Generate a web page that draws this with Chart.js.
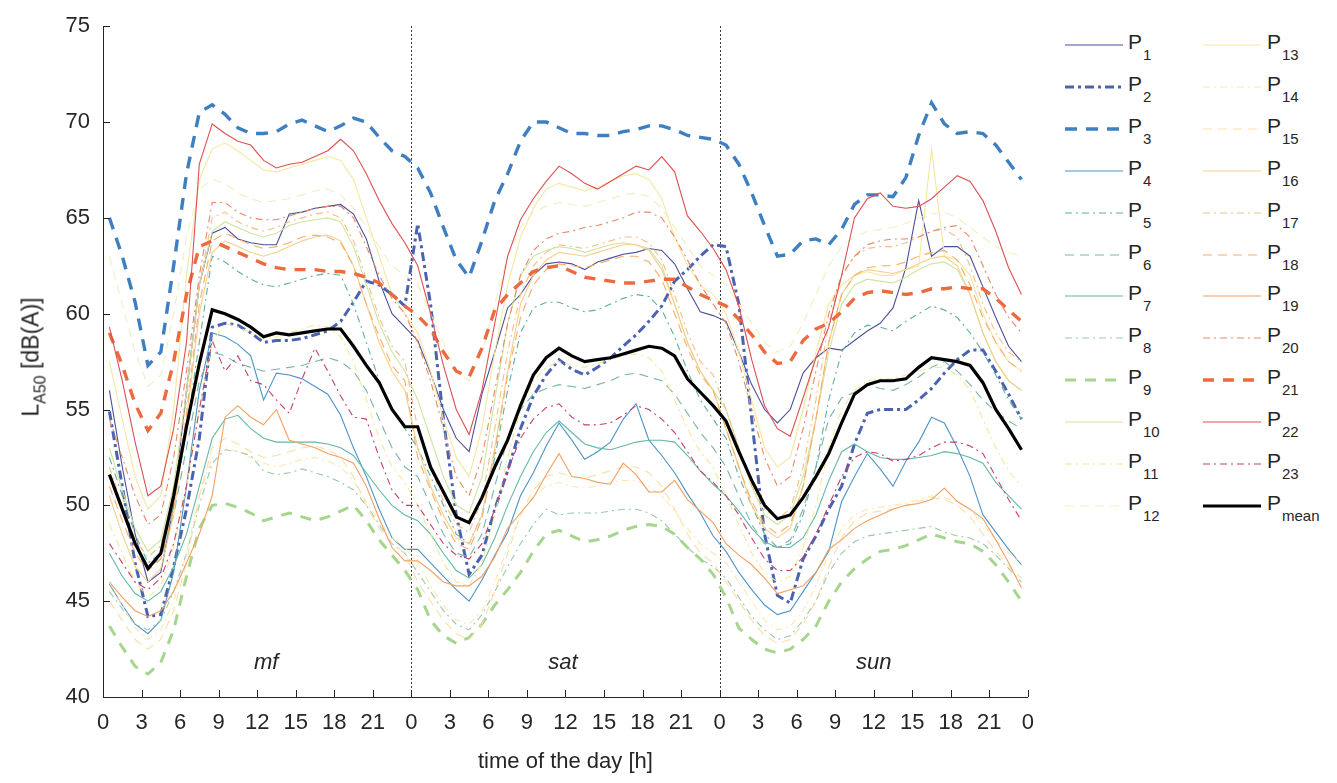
<!DOCTYPE html>
<html>
<head>
<meta charset="utf-8">
<title>L_A50 daily profiles</title>
<script src="https://cdn.jsdelivr.net/npm/chart.js@4.4.1/dist/chart.umd.min.js"></script>
<style>
  html, body { margin: 0; padding: 0; background: #fff; }
  #page { position: relative; width: 1337px; height: 783px; overflow: hidden;
          font-family: 'Liberation Sans', Arial, sans-serif; color: #262626; }
  #chartBox { position: absolute; left: 0; top: 0; width: 1047px; height: 783px; }
  #ytitle { position: absolute; left: 31px; top: 357px; width: 0; height: 0; }
  #ytitle div { position: absolute; left: 0; top: 0; transform: translate(-50%, -50%) rotate(-90deg);
                white-space: nowrap; font-size: 23px; line-height: 1; }
  #ytitle sub { font-size: 16px; vertical-align: baseline; position: relative; top: 7px; }
  .leg-line { position: absolute; }
  .leg-text { position: absolute; font-size: 21px; line-height: 21px; white-space: nowrap; }
  .leg-text sub { font-size: 15px; vertical-align: baseline; position: relative; top: 11px; margin-left: 1px; }
</style>
</head>
<body>
<div id="page">
  <div id="chartBox"><canvas id="grafico" width="1047" height="783"></canvas></div>
  <div id="ytitle"><div>L<sub>A50</sub> [dB(A)]</div></div>
  <div id="legenda"></div>
</div>
<script>
// hourly L_A50 values, one per hour (plotted at h+0.5): mon-fri, sat, sun
const P1 = [56.0, 52.0, 48.5, 46.0, 46.5, 50.0, 56.0, 61.5, 64.2, 64.5, 63.9, 63.7, 63.6, 63.6, 65.2, 65.3, 65.5, 65.6, 65.7, 65.2, 63.9, 61.7, 60.0, 59.3,
            58.6, 56.9, 55.0, 53.5, 52.8, 55.8, 58.0, 60.3, 61.0, 62.0, 62.6, 62.7, 62.6, 62.3, 62.7, 62.9, 63.1, 63.2, 63.4, 63.3, 62.6, 61.3, 60.1, 59.9,
            59.6, 58.0, 56.3, 55.0, 54.3, 55.0, 56.9, 57.7, 58.2, 58.1, 58.6, 59.1, 59.5, 60.3, 62.4, 65.9, 63.0, 63.5, 63.5, 63.0, 61.4, 59.8, 58.3, 57.5];
const P2 = [54.9, 51.0, 47.0, 44.2, 44.3, 46.8, 49.8, 53.5, 59.3, 59.5, 59.4, 59.0, 58.5, 58.6, 58.6, 58.7, 58.9, 59.1, 59.6, 60.6, 61.7, 61.5, 61.0, 60.4,
            64.7, 60.5, 54.5, 49.5, 46.4, 47.4, 49.8, 51.8, 54.0, 55.7, 56.8, 57.6, 57.1, 56.8, 57.2, 57.7, 58.3, 58.9, 59.6, 60.4, 61.7, 62.3, 63.0, 63.6,
            63.5, 60.5, 54.5, 48.5, 45.3, 44.9, 47.2, 48.4, 49.8, 51.0, 53.2, 54.8, 55.0, 55.0, 55.0, 55.5, 56.1, 56.9, 57.6, 58.1, 58.1, 57.0, 55.8, 54.5];
const P3 = [65.0, 63.0, 60.6, 57.3, 58.0, 62.5, 67.3, 70.5, 70.9, 70.4, 69.7, 69.4, 69.4, 69.5, 69.9, 70.1, 69.8, 69.5, 69.8, 70.2, 70.0, 69.2, 68.5, 68.2,
            67.6, 66.3, 64.5, 62.8, 61.9, 63.8, 65.9, 67.3, 69.0, 70.0, 70.0, 69.7, 69.4, 69.4, 69.3, 69.3, 69.5, 69.6, 69.8, 69.8, 69.6, 69.3, 69.2, 69.1,
            68.8, 67.8, 66.3, 64.6, 63.0, 63.1, 63.8, 63.9, 63.6, 64.4, 65.7, 66.2, 66.2, 66.1, 67.1, 69.3, 71.0, 69.9, 69.4, 69.5, 69.4, 68.8, 67.9, 67.0];
const P4 = [45.9, 44.8, 43.8, 43.3, 44.0, 46.5, 51.0, 56.0, 59.0, 58.8, 58.4, 57.8, 55.5, 56.9, 56.8, 56.6, 56.2, 55.8, 54.7, 53.0, 51.5, 49.8, 48.3, 47.7,
            47.7, 47.0, 46.3, 45.6, 45.0, 46.1, 47.4, 48.6, 50.5, 51.7, 53.1, 54.3, 53.4, 52.4, 52.8, 53.3, 54.5, 55.3, 53.4, 52.6, 51.7, 50.6, 49.6, 48.4,
            47.6, 46.5, 45.6, 44.8, 44.3, 44.5, 45.5, 46.5, 47.6, 50.2, 51.5, 52.7, 51.9, 51.0, 52.3, 53.3, 54.6, 54.3, 53.0, 51.5, 49.5, 48.6, 47.7, 46.9];
const P5 = [52.5, 50.5, 48.5, 47.0, 47.5, 50.0, 54.0, 58.5, 63.0, 62.7, 62.2, 61.8, 61.5, 61.4, 61.6, 61.8, 62.0, 62.1, 62.0, 60.5, 58.5, 56.5, 55.0, 54.0,
            53.0, 51.5, 50.0, 48.5, 48.0, 49.5, 52.5, 56.0, 59.0, 60.3, 60.6, 60.6, 60.3, 60.1, 60.2, 60.5, 60.8, 61.0, 60.9, 60.2, 58.8, 57.0, 55.5, 54.5,
            53.5, 51.5, 50.0, 48.5, 47.8, 48.0, 49.5, 52.0, 55.5, 58.0, 59.0, 59.4, 59.3, 59.1, 59.6, 60.0, 60.4, 60.2, 59.8, 59.0, 58.0, 56.8, 55.5, 54.5];
const P6 = [51.5, 49.8, 48.0, 46.8, 47.2, 49.5, 53.0, 56.5, 58.0, 57.8, 57.4, 57.2, 57.0, 57.1, 57.2, 57.3, 57.5, 57.7, 57.5, 57.0, 56.0, 54.5, 53.0, 52.0,
            51.5, 50.0, 48.5, 47.5, 47.3, 48.5, 51.0, 53.5, 55.0, 55.8, 56.1, 56.3, 56.2, 56.1, 56.3, 56.5, 56.8, 56.9, 56.7, 56.5, 55.8, 54.8, 53.8, 53.0,
            52.0, 50.5, 49.0, 48.0, 47.8, 48.2, 49.8, 52.0, 54.5, 55.6, 55.9, 56.3, 56.1, 56.0, 56.3, 56.7, 57.2, 57.5, 57.0, 56.3, 55.5, 54.9, 54.4, 54.0];
const P7 = [47.5, 46.3, 45.4, 45.0, 45.5, 46.8, 48.5, 51.0, 53.5, 54.5, 54.7, 54.0, 53.5, 53.3, 53.3, 53.3, 53.3, 53.2, 53.0, 52.6, 51.7, 50.8, 50.0, 49.5,
            49.2, 48.5, 47.5, 46.6, 46.2, 46.9, 48.3, 50.0, 51.5, 52.8, 53.8, 54.4, 53.8, 53.2, 53.0, 52.9, 53.1, 53.3, 53.4, 53.4, 53.3, 52.6, 51.8, 51.1,
            50.5, 49.7, 48.8, 48.1, 47.8, 47.8, 48.3, 49.5, 51.3, 52.8, 53.2, 52.8, 52.5, 52.4, 52.4, 52.5, 52.6, 52.8, 52.7, 52.5, 52.2, 51.2, 50.5, 49.8];
const P8 = [45.5, 44.6, 43.8, 43.5, 44.0, 45.5, 47.5, 50.0, 52.2, 52.9, 52.8, 52.6, 51.8, 51.6, 51.7, 51.9, 51.7, 51.5, 51.2, 50.8, 50.0, 49.0, 48.0, 47.5,
            46.5, 45.5, 44.5, 43.8, 43.5, 44.3, 45.5, 46.8, 48.0, 49.0, 49.8, 49.5, 49.6, 49.6, 49.6, 49.7, 49.8, 49.8, 49.6, 49.2, 48.5, 47.8, 47.2, 46.8,
            46.2, 45.2, 44.2, 43.5, 43.0, 43.2, 44.0, 45.0, 46.5, 47.5, 48.1, 48.4, 48.5, 48.6, 48.7, 48.8, 48.9, 48.6, 48.4, 48.3, 48.0, 47.4, 46.7, 46.0];
const P9 = [43.7, 42.6, 41.6, 41.2, 41.8, 43.5, 46.3, 48.8, 50.0, 50.1, 49.9, 49.6, 49.2, 49.4, 49.6, 49.4, 49.2, 49.4, 49.7, 50.0, 49.2, 48.2, 47.4, 46.6,
            45.6, 44.0, 43.2, 42.8, 43.1, 43.8, 44.8, 45.6, 46.5, 47.6, 48.5, 48.7, 48.4, 48.1, 48.2, 48.4, 48.7, 48.9, 49.0, 48.9, 48.5, 47.8, 47.2, 46.4,
            45.2, 43.6, 43.0, 42.5, 42.3, 42.5, 43.0, 43.7, 45.0, 46.0, 46.7, 47.2, 47.6, 47.7, 47.9, 48.2, 48.5, 48.3, 48.1, 48.0, 47.6, 46.9, 46.0, 45.0];
const P10 = [53.0, 50.8, 48.8, 47.6, 48.2, 51.0, 56.0, 61.5, 64.3, 64.8, 64.5, 64.2, 64.0, 64.2, 64.6, 64.8, 64.9, 65.0, 64.8, 63.5, 61.5, 59.5, 58.0, 57.0,
             55.5, 53.5, 51.5, 50.0, 49.6, 51.5, 55.5, 59.5, 62.0, 63.0, 63.3, 63.5, 63.4, 63.2, 63.4, 63.6, 63.7, 63.6, 63.4, 62.5, 60.5, 58.5, 57.0, 56.0,
             55.0, 53.0, 51.0, 49.5, 49.0, 49.5, 51.5, 54.5, 58.0, 60.5, 61.5, 61.8, 61.7, 61.6, 61.9, 62.3, 62.6, 62.7, 62.3, 61.0, 59.0, 57.5, 56.5, 56.0];
const P11 = [49.0, 47.5, 46.0, 45.2, 45.8, 47.8, 51.0, 55.0, 58.5, 59.5, 59.3, 59.0, 58.7, 58.8, 59.0, 59.2, 59.4, 59.3, 58.8, 57.5, 55.5, 53.5, 52.0, 51.2,
             50.0, 48.5, 47.0, 46.0, 45.8, 47.0, 49.5, 52.5, 55.0, 56.5, 57.2, 57.5, 57.3, 57.2, 57.4, 57.6, 57.8, 57.9, 57.7, 57.0, 55.5, 54.0, 52.8, 52.0,
             50.5, 49.0, 47.5, 46.5, 46.0, 46.3, 47.8, 50.0, 53.0, 55.0, 56.0, 56.5, 56.6, 56.6, 56.8, 57.0, 57.2, 57.2, 56.8, 56.0, 54.5, 53.0, 51.8, 51.0];
const P12 = [63.0, 60.5, 58.0, 56.2, 56.8, 60.0, 64.0, 66.5, 67.0, 66.8, 66.3, 66.0, 65.8, 65.9, 66.0, 66.2, 66.4, 66.5, 66.2, 65.5, 64.5, 63.5, 62.5, 62.0,
             61.5, 60.0, 58.5, 57.0, 56.5, 58.0, 60.5, 63.0, 64.5, 65.3, 65.6, 65.8, 65.7, 65.6, 65.8, 66.0, 66.2, 66.3, 66.1, 65.5, 64.5, 63.5, 62.5, 62.0,
             61.5, 60.5, 59.5, 58.5, 58.0, 58.3, 59.5, 61.0, 62.5, 63.5, 64.0, 64.3, 64.4, 64.5, 64.7, 65.0, 65.2, 65.3, 65.0, 64.5, 64.0, 63.5, 63.2, 63.0];
const P13 = [57.5, 54.5, 51.5, 49.8, 50.5, 55.0, 62.0, 67.0, 68.6, 68.9, 68.5, 68.0, 67.5, 67.4, 67.6, 67.8, 68.0, 68.2, 68.0, 67.0, 65.0, 63.0, 61.0, 60.0,
             59.0, 57.0, 54.5, 52.5, 51.5, 54.0, 58.0, 61.5, 64.0, 65.5, 66.5, 66.8, 66.6, 66.4, 66.6, 66.9, 67.2, 67.3, 67.0, 66.0, 64.0, 62.5, 61.5, 61.0,
             60.0, 58.0, 55.5, 53.0, 52.0, 52.5, 55.0, 58.0, 60.5, 61.5, 62.0, 62.2, 62.0, 62.0, 62.3, 62.5, 68.6, 63.0, 62.8, 62.0, 60.0, 58.5, 57.5, 57.0];
const P14 = [46.0, 44.8, 43.6, 43.0, 43.5, 45.0, 47.5, 50.5, 52.5, 53.0, 52.8, 52.5, 52.2, 52.0, 52.2, 52.4, 52.5, 52.3, 52.0, 51.3, 50.2, 49.2, 48.3, 47.8,
             47.0, 45.8, 44.8, 44.0, 43.8, 44.5, 46.0, 47.8, 49.5, 50.5, 51.0, 51.2, 51.0, 50.9, 51.0, 51.2, 51.3, 51.3, 51.0, 50.5, 49.7, 48.8, 48.0, 47.5,
             47.0, 46.0, 45.0, 44.0, 43.5, 43.7, 44.5, 45.8, 47.5, 48.8, 49.5, 49.8, 49.9, 50.0, 50.1, 50.3, 50.5, 50.4, 50.2, 49.8, 49.0, 48.2, 47.5, 47.0];
const P15 = [45.0, 44.0, 43.0, 42.5, 43.0, 44.5, 47.0, 50.5, 53.0, 53.5, 53.2, 52.8, 52.5, 52.6, 52.8, 53.0, 53.1, 52.9, 52.5, 51.5, 50.0, 48.8, 48.0, 47.5,
             46.0, 45.0, 44.0, 43.3, 43.0, 43.8, 45.5, 47.5, 49.5, 50.8, 51.5, 51.7, 51.5, 51.4, 51.6, 51.8, 52.0, 52.0, 51.7, 51.0, 49.8, 48.5, 47.5, 47.0,
             46.0, 45.0, 44.0, 43.2, 42.8, 43.0, 43.8, 45.0, 46.8, 48.3, 49.2, 49.6, 49.7, 49.8, 50.0, 50.2, 50.4, 50.3, 50.0, 49.4, 48.5, 47.6, 46.8, 46.2];
const P16 = [50.5, 48.5, 46.8, 46.0, 46.7, 49.5, 54.5, 60.0, 63.2, 63.8, 63.5, 63.2, 63.0, 63.2, 63.5, 63.8, 64.0, 64.1, 63.8, 62.5, 60.5, 58.5, 57.0, 56.0,
             53.0, 51.0, 49.5, 48.3, 48.0, 49.5, 53.0, 57.0, 60.5, 62.0, 62.8, 63.2, 63.1, 63.0, 63.2, 63.4, 63.6, 63.6, 63.3, 62.3, 60.5, 58.5, 57.0, 56.0,
             54.0, 52.0, 50.0, 48.8, 48.3, 48.8, 51.0, 54.5, 58.5, 61.0, 62.0, 62.3, 62.2, 62.1, 62.3, 62.6, 62.9, 63.0, 62.5, 61.0, 59.0, 57.5, 56.5, 56.0];
const P17 = [52.0, 50.0, 48.2, 47.3, 47.9, 50.5, 55.5, 61.5, 65.0, 65.3, 64.8, 64.5, 64.3, 64.5, 64.8, 65.0, 65.2, 65.3, 65.0, 63.8, 61.8, 59.8, 58.3, 57.5,
             54.0, 52.0, 50.2, 49.0, 48.6, 50.3, 54.0, 58.0, 61.0, 62.5, 63.2, 63.6, 63.5, 63.4, 63.6, 63.8, 64.0, 64.0, 63.7, 62.8, 61.0, 59.0, 57.5, 56.8,
             55.0, 53.0, 51.0, 49.8, 49.3, 49.8, 52.0, 55.5, 59.5, 62.0, 63.0, 63.4, 63.5, 63.5, 63.7, 64.0, 64.3, 64.4, 64.0, 62.5, 60.5, 59.0, 58.0, 57.5];
const P18 = [51.0, 49.2, 47.5, 46.6, 47.2, 49.8, 54.8, 60.5, 63.8, 64.2, 63.9, 63.6, 63.4, 63.5, 63.7, 64.0, 64.1, 64.0, 63.7, 62.5, 60.5, 58.8, 57.3, 56.5,
             52.5, 50.8, 49.2, 48.0, 47.7, 49.3, 52.8, 56.8, 59.8, 61.5, 62.3, 62.6, 62.5, 62.4, 62.6, 62.8, 63.0, 63.0, 62.7, 61.8, 60.0, 58.2, 56.8, 56.0,
             54.0, 52.0, 50.2, 49.0, 48.5, 49.0, 51.0, 54.5, 58.5, 61.0, 62.0, 62.4, 62.5, 62.5, 62.7, 63.0, 63.2, 63.3, 62.8, 61.5, 59.8, 58.5, 57.5, 57.0];
const P19 = [46.0, 45.2, 44.5, 44.2, 44.5, 45.5, 47.0, 48.5, 50.5, 54.6, 55.2, 54.6, 54.2, 55.0, 53.4, 53.2, 53.0, 52.7, 52.5, 52.2, 51.0, 49.3, 47.8, 47.1,
             47.1, 46.6, 46.0, 45.8, 45.8, 46.3, 47.3, 48.8, 49.6, 50.4, 51.6, 52.7, 51.5, 51.4, 51.2, 51.1, 52.2, 51.6, 50.7, 50.7, 51.3, 50.3, 49.7, 49.1,
             48.0, 47.4, 46.9, 46.2, 45.4, 45.6, 45.8, 46.5, 47.7, 48.2, 48.8, 49.2, 49.5, 49.8, 50.0, 50.1, 50.3, 50.9, 50.2, 49.8, 49.3, 48.2, 47.0, 45.7];
const P20 = [54.5, 52.5, 50.5, 49.0, 49.5, 52.5, 57.0, 62.0, 65.8, 65.8, 65.3, 65.0, 64.9, 64.9, 65.1, 65.3, 65.5, 65.6, 65.6, 65.0, 63.5, 62.0, 60.8, 60.0,
             58.5, 56.5, 54.0, 51.5, 50.5, 52.5, 56.0, 59.5, 62.0, 63.3, 63.9, 64.2, 64.3, 64.5, 64.6, 64.8, 65.0, 65.3, 65.3, 65.0, 64.0, 62.8, 61.5, 60.5,
             59.5, 57.5, 55.0, 52.5, 51.0, 51.5, 54.0, 57.0, 60.0, 62.0, 63.0, 63.6, 63.8, 63.9, 63.9, 64.0, 64.3, 64.5, 64.6, 64.0, 62.5, 61.0, 59.8, 59.0];
const P21 = [59.0, 57.3, 55.3, 53.9, 54.8, 57.5, 61.0, 63.5, 63.8, 63.5, 63.2, 62.9, 62.6, 62.4, 62.3, 62.3, 62.3, 62.2, 62.2, 62.1, 61.9, 61.6, 61.0, 60.4,
             59.9, 59.2, 58.0, 57.0, 56.7, 58.2, 60.2, 61.0, 61.6, 62.2, 62.4, 62.5, 62.2, 61.9, 61.8, 61.7, 61.6, 61.6, 61.7, 61.8, 61.8, 61.4, 61.0, 60.7,
             60.4, 59.7, 58.9, 58.0, 57.4, 57.5, 58.6, 59.2, 59.5, 60.1, 60.8, 61.1, 61.2, 61.1, 61.0, 61.1, 61.3, 61.3, 61.4, 61.3, 61.3, 60.8, 60.2, 59.6];
const P22 = [59.3, 56.5, 53.3, 50.5, 51.0, 54.0, 58.5, 67.8, 69.9, 69.4, 69.0, 68.8, 68.0, 67.6, 67.8, 67.9, 68.2, 68.5, 69.1, 68.5, 67.3, 65.9, 64.7, 63.7,
             62.5, 60.0, 57.3, 55.0, 53.7, 56.0, 59.5, 63.0, 64.9, 66.0, 66.9, 67.7, 67.3, 66.8, 66.5, 66.9, 67.3, 67.7, 67.5, 68.2, 67.4, 65.1, 64.3, 63.4,
             62.3, 60.4, 57.6, 55.2, 54.0, 53.6, 55.6, 57.7, 59.3, 62.0, 65.0, 66.0, 66.3, 65.6, 65.5, 65.6, 66.0, 66.6, 67.2, 66.9, 65.9, 64.3, 62.4, 61.0];
const P23 = [48.0, 47.0, 46.0, 45.6, 46.2, 48.0, 51.0, 55.0, 58.6, 57.0, 57.8, 56.5, 56.3, 55.5, 54.8, 56.6, 58.2, 57.0, 55.7, 54.6, 54.5, 52.5, 50.8, 50.0,
             50.0, 49.0, 48.0, 47.4, 47.2, 48.0, 49.8, 51.8, 53.5, 54.5, 55.1, 55.3, 54.6, 54.2, 54.2, 54.3, 54.7, 55.2, 55.0, 54.5, 53.8, 52.8, 51.8, 51.2,
             50.5, 49.5, 48.3, 47.2, 46.6, 46.6, 47.3, 48.5, 50.0, 51.5, 52.5, 52.8, 52.7, 52.3, 52.4, 52.6, 53.0, 53.3, 53.3, 53.1, 52.7, 51.5, 50.3, 49.2];
const Pmean = [51.6, 49.8, 48.0, 46.7, 47.5, 50.5, 54.1, 57.4, 60.2, 60.0, 59.7, 59.3, 58.8, 59.0, 58.9, 59.0, 59.1, 59.2, 59.2, 58.3, 57.3, 56.4, 55.0, 54.1,
               54.1, 52.0, 50.7, 49.4, 49.1, 50.4, 52.0, 53.4, 55.2, 56.8, 57.7, 58.2, 57.8, 57.5, 57.6, 57.7, 57.9, 58.1, 58.3, 58.2, 57.8, 56.6, 55.9, 55.2,
               54.4, 52.8, 51.3, 50.0, 49.3, 49.5, 50.4, 51.5, 52.7, 54.3, 55.8, 56.3, 56.5, 56.5, 56.6, 57.2, 57.7, 57.6, 57.5, 57.3, 56.4, 55.0, 54.0, 52.9];

const seriesLabels = ['1', '2', '3', '4', '5', '6', '7', '8', '9', '10', '11', '12',
                      '13', '14', '15', '16', '17', '18', '19', '20', '21', '22', '23', 'mean'];
const seriesValues = [P1, P2, P3, P4, P5, P6, P7, P8, P9, P10, P11, P12,
                      P13, P14, P15, P16, P17, P18, P19, P20, P21, P22, P23, Pmean];
const dayNames = ['mf', 'sat', 'sun'];
const dayNameHours = [12.7, 35.8, 60.0];
const dayBreaks = [24, 48];

// estilos das linhas (cor, tracejado, espessura)
const lineColors = ['#4c4f97', '#4a62b0', '#3e7fc1', '#4d93c6', '#5fae9f', '#78b5a9', '#64b8a4', '#9bc9a8',
                    '#a5d68c', '#cfe4a0', '#eeec96', '#edf1bf', '#f6e7a0', '#fae8ae', '#f9dfa8', '#f7cf88',
                    '#f6be86', '#f4ae6a', '#f2a062', '#ea8766', '#ec6a3e', '#de4f50', '#c63f6c', '#000000'];
const SOLID = [], DASHDOT = [7, 4, 2, 4], DASHED = [9, 6];
const lineDashes = [SOLID, [9, 4, 3, 4], [12, 9], SOLID, DASHDOT, DASHED, SOLID, DASHDOT,
                    [11, 9], SOLID, DASHDOT, DASHED, SOLID, DASHDOT, DASHED, SOLID,
                    DASHDOT, DASHED, SOLID, DASHDOT, [11, 9], SOLID, DASHDOT, SOLID];
const lineWidths = [1.1, 3, 3.4, 1.1, 1.1, 1.1, 1.1, 1.1, 3, 1.1, 1.1, 1.1,
                    1.1, 1.1, 1.1, 1.1, 1.1, 1.1, 1.1, 1.1, 3.4, 1.1, 1.1, 3.2];

const FONT = "'Liberation Sans', Arial, sans-serif";
const INK = '#262626';
Chart.defaults.font.family = FONT;
Chart.defaults.color = INK;

const datasets = seriesValues.map((vals, k) => ({
    label: 'P' + seriesLabels[k],
    data: vals.map((v, i) => ({ x: i + 0.5, y: v })),
    borderColor: lineColors[k],
    borderWidth: lineWidths[k],
    borderDash: lineDashes[k],
    pointRadius: 0,
    fill: false,
    tension: 0,
    order: seriesValues.length - k,
}));

// linhas pontilhadas entre os dias, ticks para dentro e nomes dos dias
const extras = {
    id: 'extras',
    beforeDatasetsDraw(chart) {
        const { ctx, chartArea: a, scales: { x } } = chart;
        ctx.save();
        ctx.strokeStyle = '#000';
        ctx.lineWidth = 1;
        ctx.setLineDash([1.5, 2.5]);
        dayBreaks.forEach(h => {
            const px = Math.round(x.getPixelForValue(h)) + 0.5;
            ctx.beginPath();
            ctx.moveTo(px, a.top);
            ctx.lineTo(px, a.bottom);
            ctx.stroke();
        });
        ctx.restore();
    },
    afterDatasetsDraw(chart) {
        const { ctx, chartArea: a, scales: { x, y } } = chart;
        ctx.save();
        ctx.strokeStyle = INK;
        ctx.lineWidth = 1;
        x.ticks.forEach(t => {
            const px = Math.round(x.getPixelForValue(t.value)) + 0.5;
            ctx.beginPath();
            ctx.moveTo(px, a.bottom);
            ctx.lineTo(px, a.bottom - 7);
            ctx.stroke();
        });
        y.ticks.forEach(t => {
            const py = Math.round(y.getPixelForValue(t.value)) + 0.5;
            ctx.beginPath();
            ctx.moveTo(a.left, py);
            ctx.lineTo(a.left + 7, py);
            ctx.stroke();
        });
        ctx.fillStyle = INK;
        ctx.font = 'italic 22px ' + FONT;
        ctx.textAlign = 'center';
        ctx.textBaseline = 'middle';
        dayNames.forEach((n, i) => {
            ctx.fillText(n, x.getPixelForValue(dayNameHours[i]), y.getPixelForValue(41.8));
        });
        ctx.restore();
    },
};

const ctx = document.getElementById('grafico').getContext('2d');
new Chart(ctx, {
    type: 'line',
    data: { datasets },
    options: {
        responsive: false,
        animation: false,
        devicePixelRatio: 1,
        layout: { padding: { left: 0, right: 15, top: 19, bottom: 0 } },
        plugins: {
            legend: { display: false },
            tooltip: { enabled: false },
        },
        scales: {
            x: {
                type: 'linear',
                min: 0,
                max: 72,
                afterFit: s => { s.height = 86; },
                grid: { drawOnChartArea: false, drawTicks: false },
                border: { color: INK, width: 1 },
                ticks: {
                    stepSize: 3,
                    autoSkip: false,
                    maxRotation: 0,
                    padding: 13,
                    font: { size: 22 },
                    callback: v => v % 24,
                },
                title: {
                    display: true,
                    text: 'time of the day [h]',
                    font: { size: 22 },
                    padding: { top: 0, bottom: 8 },
                },
            },
            y: {
                type: 'linear',
                min: 40,
                max: 75,
                afterFit: s => { s.width = 103; },
                grid: { drawOnChartArea: false, drawTicks: false },
                border: { color: INK, width: 1 },
                ticks: { stepSize: 5, padding: 13, font: { size: 22 } },
            },
        },
    },
    plugins: [extras],
});

// legenda em duas colunas (P1..P12 | P13..Pmean)
const legenda = document.getElementById('legenda');
const colLineX = [1065, 1203];
const colTextX = [1128, 1267];
seriesLabels.forEach((lab, k) => {
    const col = k < 12 ? 0 : 1;
    const row = k % 12;
    const ly = 45 + row * 41.9;
    const svgNS = 'http://www.w3.org/2000/svg';
    const svg = document.createElementNS(svgNS, 'svg');
    svg.setAttribute('class', 'leg-line');
    svg.setAttribute('width', '58');
    svg.setAttribute('height', '10');
    svg.style.left = colLineX[col] + 'px';
    svg.style.top = (ly - 5) + 'px';
    const ln = document.createElementNS(svgNS, 'line');
    ln.setAttribute('x1', '0'); ln.setAttribute('y1', '5');
    ln.setAttribute('x2', '58'); ln.setAttribute('y2', '5');
    ln.setAttribute('stroke', lineColors[k]);
    ln.setAttribute('stroke-width', lineWidths[k]);
    if (lineDashes[k].length) ln.setAttribute('stroke-dasharray', lineDashes[k].join(' '));
    svg.appendChild(ln);
    legenda.appendChild(svg);

    const txt = document.createElement('div');
    txt.className = 'leg-text';
    txt.style.left = colTextX[col] + 'px';
    txt.style.top = (ly - 14) + 'px';
    txt.innerHTML = 'P<sub>' + lab + '</sub>';
    legenda.appendChild(txt);
});
</script>
</body>
</html>
